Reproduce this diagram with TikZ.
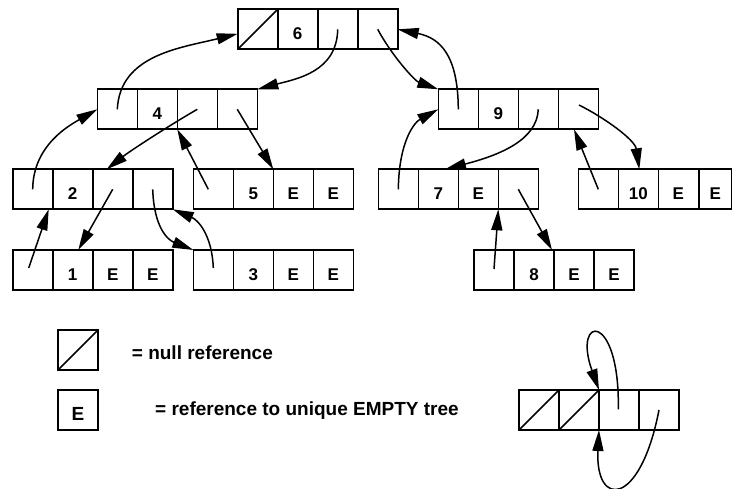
\documentclass[tikz,border=0pt]{standalone}
\usepackage{fontspec}
\setmainfont{Liberation Sans}
\usetikzlibrary{arrows.meta,calc}
\begin{document}
\begin{tikzpicture}[x=1pt,y=-1pt,
  cell/.style={draw, line width=1.6pt, minimum width=40pt, minimum height=40pt, inner sep=0pt, outer sep=0pt, text height=21pt, text depth=0pt, font=\fontsize{17}{20}\selectfont\bfseries},
  ptr/.style={line width=1.5pt, -{Triangle[length=21pt,width=11pt]}},
  nullmark/.style={line width=1.6pt},
  legtext/.style={anchor=base west, inner sep=0pt, font=\fontsize{19}{22}\selectfont\bfseries}]
\useasboundingbox (0,0) rectangle (732,489);
% node 6
\node[cell] (s6a) at (257.7,29.3) {};
\node[cell] (s6b) at (297.7,29.3) {6};
\node[cell] (s6c) at (337.7,29.3) {};
\node[cell] (s6d) at (377.7,29.3) {};
\draw[nullmark] (s6a.south west) -- (s6a.north east);
% node 4
\node[cell] (s4a) at (117.3,109.3) {};
\node[cell] (s4b) at (157.3,109.3) {4};
\node[cell] (s4c) at (197.3,109.3) {};
\node[cell] (s4d) at (237.3,109.3) {};
% node 9
\node[cell] (s9a) at (458.3,109.3) {};
\node[cell] (s9b) at (498.3,109.3) {9};
\node[cell] (s9c) at (538.3,109.3) {};
\node[cell] (s9d) at (578.3,109.3) {};
% node 2
\node[cell] (s2a) at (32.7,189.3) {};
\node[cell] (s2b) at (72.7,189.3) {2};
\node[cell] (s2c) at (112.7,189.3) {};
\node[cell] (s2d) at (152.7,189.3) {};
% node 5
\node[cell] (s5a) at (213.3,189.3) {};
\node[cell] (s5b) at (253.3,189.3) {5};
\node[cell] (s5c) at (293.3,189.3) {E};
\node[cell] (s5d) at (333.3,189.3) {E};
% node 7
\node[cell] (s7a) at (398.3,189.3) {};
\node[cell] (s7b) at (438.3,189.3) {7};
\node[cell] (s7c) at (478.3,189.3) {E};
\node[cell] (s7d) at (518.3,189.3) {};
% node 10
\node[cell] (s10a) at (598.3,189.3) {};
\node[cell] (s10b) at (638.3,189.3) {10};
\node[cell] (s10c) at (678.3,189.3) {E};
\node[cell, minimum width=32pt] (s10d) at (715.3,189.3) {E};
% node 1
\node[cell] (s1a) at (32.7,270) {};
\node[cell] (s1b) at (72.7,270) {1};
\node[cell] (s1c) at (112.7,270) {E};
\node[cell] (s1d) at (152.7,270) {E};
% node 3
\node[cell] (s3a) at (213.3,270) {};
\node[cell] (s3b) at (253.3,270) {3};
\node[cell] (s3c) at (293.3,270) {E};
\node[cell] (s3d) at (333.3,270) {E};
% node 8
\node[cell] (s8a) at (494,270) {};
\node[cell] (s8b) at (534,270) {8};
\node[cell] (s8c) at (574,270) {E};
\node[cell] (s8d) at (614,270) {E};
% legend
\node[cell] (lnull) at (78,350) {};
\draw[nullmark] (lnull.south west) -- (lnull.north east);
\node[cell, font=\fontsize{19}{22}\selectfont\bfseries] (lempty) at (78,410) {E};
\node[legtext] (l1) at (131.7,360) {= null reference};
\node[legtext] (l2) at (155,416) {= reference to unique EMPTY tree};
% bottom right structure
\node[cell] (b1) at (539,410) {};
\node[cell] (b2) at (579,410) {};
\node[cell] (b3) at (619,410) {};
\node[cell] (b4) at (659,410) {};
\draw[nullmark] (b1.south west) -- (b1.north east);
\draw[nullmark] (b2.south west) -- (b2.north east);
% pointers
\draw[ptr] (s6c.center) .. controls (337,72) and (296,79) .. (s4d.north east);
\draw[ptr] (s6d.center) .. controls (392,56) and (415,81) .. (s9a.north west);
\draw[ptr] (s4a.center) .. controls (120,55) and (180,48) .. ($(s6a.west)+(0,4.5)$);
\draw[ptr] (s9a.center) .. controls (458,55) and (440,38) .. (s6d.east);
\draw[ptr] (s4c.center) .. controls (170,125) and (130,151) .. ($(s2c.north)+(-6,0)$);
\draw[ptr] (s4d.center) -- (s5b.north east);
\draw[ptr] ($(s5a.center)+(-5,0)$) -- (s4b.south east);
\draw[ptr] (s2a.center) .. controls (33,145) and (70,125) .. (s4a.west);
\draw[ptr] (s2c.center) -- ($(s1b.north)+(5.6,0)$);
\draw[ptr] ($(s1a.center)+(-4,-2)$) -- ($(s2a.south east)+(-4,0)$);
\draw[ptr] (s2d.center) .. controls (154,228) and (168,240) .. (s3a.north west);
\draw[ptr] ($(s3a.center)+(0,-2)$) .. controls (212,235) and (198,220) .. (s2d.south east);
\draw[ptr] (s9c.center) .. controls (537,140) and (500,155) .. ($(s7b.north)+(6.7,0)$);
\draw[ptr] ($(s9d.center)+(0.7,-4.3)$) .. controls (605,118) and (635,140) .. ($(s10b.north)+(1,0)$);
\draw[ptr] (s10a.center) -- ($(s9d.south)+(-4.3,0)$);
\draw[ptr] (s7a.center) .. controls (399,140) and (415,122) .. (s9a.west);
\draw[ptr] (s7d.center) -- ($(s8c.north west)+(-2,0)$);
\draw[ptr] ($(s8a.center)+(0,-1)$) -- (s7c.south east);
\draw[ptr] ($(b3.center)+(-0.7,-0.7)$) .. controls (620,310) and (572,315) .. (b2.north east);
\draw[ptr] (b4.center) .. controls (640,508) and (595,508) .. (b2.south east);
\end{tikzpicture}
\end{document}
